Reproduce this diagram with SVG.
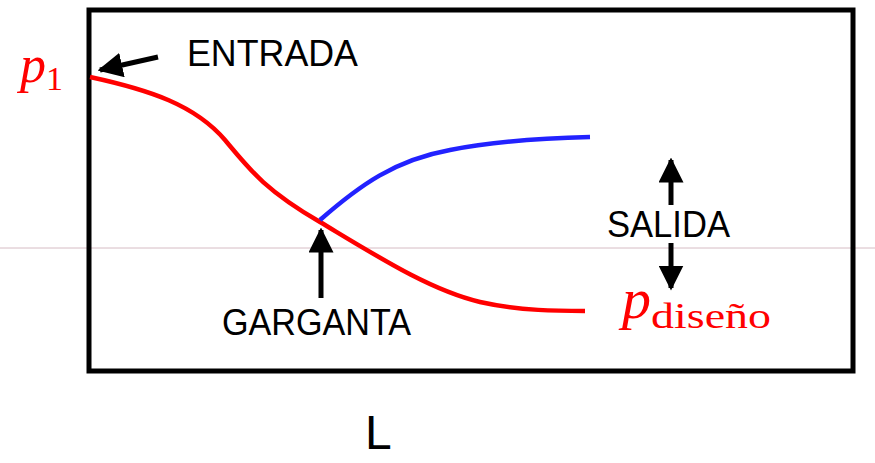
<svg xmlns="http://www.w3.org/2000/svg" width="875" height="463" viewBox="0 0 875 463">
<defs>
<style>
.lbl{font-family:"Liberation Sans",Arial,sans-serif;fill:#000;}
.math{font-family:"Liberation Serif","DejaVu Serif",serif;fill:#ff0000;}
.arr{stroke:#000;stroke-width:5;fill:none;}
</style>
<marker id="ah" viewBox="0 0 10 10" refX="9" refY="5" markerWidth="5" markerHeight="5" markerUnits="strokeWidth" orient="auto">
<path d="M0,0 L10,5 L0,10 z" fill="#000"/>
</marker>
</defs>
<rect width="875" height="463" fill="#fff"/>
<line x1="0" y1="248" x2="875" y2="248" stroke="#d6bcc4" stroke-width="1"/>
<g id="frame"><rect x="89" y="10" width="764" height="361" fill="none" stroke="#000" stroke-width="5"/></g>
<g id="curves">
<path d="M90,77 C150,90 195,105 225,140 C250,170 265,190 320,222 C380,258 430,290 480,302 C520,311 560,311 585,311" fill="none" stroke="#ff0000" stroke-width="4.5"/>
<path d="M320,220 C360,185 395,160 450,150 C500,140 550,138 590,137" fill="none" stroke="#2222ff" stroke-width="4.5"/>
</g>
<g id="connectors">
<line class="arr" x1="158" y1="57" x2="100" y2="70" marker-end="url(#ah)"/>
<line class="arr" x1="321" y1="298" x2="321" y2="230" marker-end="url(#ah)"/>
<line class="arr" x1="671" y1="205" x2="671" y2="160" marker-end="url(#ah)"/>
<line class="arr" x1="671" y1="243" x2="671" y2="288" marker-end="url(#ah)"/>
</g>
<g id="p1"><text class="math" x="20" y="82" font-size="52"><tspan font-style="italic">p</tspan><tspan font-size="34" dy="8">1</tspan></text></g>
<g id="entrada"><text class="lbl" x="187" y="66" font-size="37" textLength="171" lengthAdjust="spacingAndGlyphs">ENTRADA</text></g>
<g id="salida"><text class="lbl" x="607" y="237" font-size="37" textLength="123" lengthAdjust="spacingAndGlyphs">SALIDA</text></g>
<g id="garganta"><text class="lbl" x="222" y="335" font-size="37" textLength="189" lengthAdjust="spacingAndGlyphs">GARGANTA</text></g>
<g id="pdiseno"><text class="math" x="622" y="318" font-size="58"><tspan font-style="italic">p</tspan><tspan font-size="36" dy="10" textLength="120" lengthAdjust="spacingAndGlyphs">diseño</tspan></text></g>
<g id="L"><text class="lbl" x="365" y="449" font-size="48">L</text></g>
</svg>
